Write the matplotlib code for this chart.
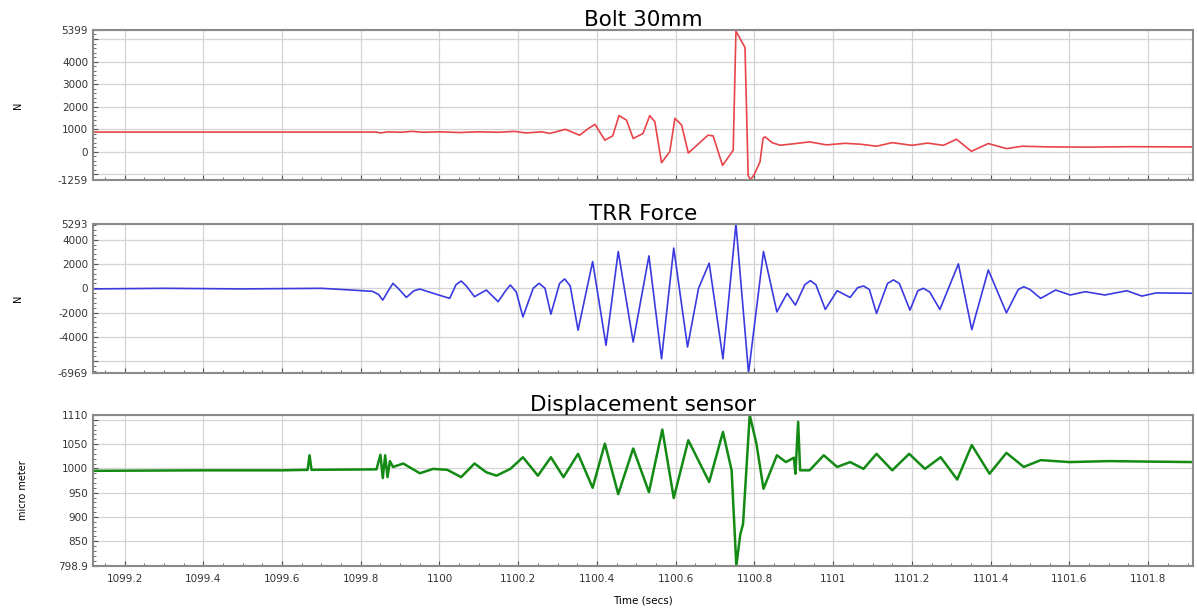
import matplotlib
matplotlib.use("Agg")
import matplotlib.pyplot as plt
from matplotlib.ticker import MultipleLocator, FuncFormatter

# Bolt 30mm force (N)
bolt_t = [1099.12, 1099.40, 1099.60, 1099.84, 1099.85, 1099.87, 1099.90, 1099.93,
          1099.96, 1100.00, 1100.05, 1100.10, 1100.15, 1100.19, 1100.22, 1100.26,
          1100.28, 1100.32, 1100.356, 1100.38, 1100.395, 1100.42, 1100.44, 1100.456,
          1100.475, 1100.492, 1100.517, 1100.534, 1100.547, 1100.564, 1100.585,
          1100.598, 1100.615, 1100.632, 1100.682, 1100.695, 1100.719, 1100.746,
          1100.753, 1100.776, 1100.784, 1100.79, 1100.80, 1100.814, 1100.822,
          1100.827, 1100.845, 1100.865, 1100.90, 1100.94, 1100.983, 1101.03,
          1101.07, 1101.11, 1101.15, 1101.20, 1101.24, 1101.28, 1101.313,
          1101.351, 1101.394, 1101.44, 1101.48, 1101.55, 1101.65, 1101.75, 1101.915]
bolt_n = [870, 870, 870, 870, 830, 880, 860, 900,
          860, 880, 850, 880, 860, 900, 830, 880,
          810, 990, 730, 1050, 1210, 510, 700, 1600,
          1400, 583, 807, 1600, 1330, -493, 0,
          1480, 1180, -60, 730, 700, -613, 60,
          5350, 4620, -1060, -1250, -1000, -460, 600,
          657, 400, 283, 350, 433, 300, 370,
          330, 240, 400, 280, 380, 280, 553,
          15, 360, 135, 240, 210, 200, 220, 210]

# TRR force (N)
trr_t = [1099.12, 1099.30, 1099.50, 1099.70, 1099.78, 1099.83, 1099.845, 1099.856,
         1099.87, 1099.882, 1099.895, 1099.916, 1099.935, 1099.95, 1099.984,
         1100.026, 1100.042, 1100.055, 1100.068, 1100.089, 1100.119, 1100.149,
         1100.168, 1100.18, 1100.195, 1100.212, 1100.238, 1100.253, 1100.268,
         1100.283, 1100.305, 1100.318, 1100.332, 1100.352, 1100.389, 1100.423,
         1100.454, 1100.492, 1100.532, 1100.564, 1100.595, 1100.63, 1100.658,
         1100.685, 1100.72, 1100.753, 1100.785, 1100.823, 1100.857, 1100.883,
         1100.904, 1100.928, 1100.942, 1100.956, 1100.98, 1101.01, 1101.043,
         1101.062, 1101.077, 1101.092, 1101.11, 1101.138, 1101.153, 1101.168,
         1101.195, 1101.215, 1101.229, 1101.245, 1101.271, 1101.318, 1101.352,
         1101.394, 1101.44, 1101.47, 1101.484, 1101.50, 1101.527, 1101.565,
         1101.602, 1101.64, 1101.69, 1101.746, 1101.784, 1101.82, 1101.915]
trr_n = [-50, 0, -50, 0, -150, -250, -500, -970,
         -200, 410, 0, -750, -200, -60, -410,
         -830, 300, 600, 200, -690, -140, -1100,
         -200, 270, -300, -2350, 0, 410, 0,
         -2130, 400, 770, 200, -3450, 2200, -4690,
         3030, -4420, 2670, -5800, 3310, -4830, 0,
         2070, -5800, 5293, -6969, 3030, -1940, -410,
         -1380, 300, 630, 300, -1740, -200, -750,
         50, 190, -100, -2070, 400, 690, 400,
         -1800, -200, 0, -300, -1740, 2010, -3400,
         1510, -2020, -100, 130, -100, -830, -140,
         -550, -280, -550, -200, -640, -380, -410]

# Displacement sensor (micro meter)
disp_t = [1099.12, 1099.40, 1099.60, 1099.665, 1099.67, 1099.675, 1099.84, 1099.85,
          1099.856, 1099.862, 1099.868, 1099.874, 1099.882, 1099.908, 1099.95,
          1099.984, 1100.02, 1100.055, 1100.089, 1100.119, 1100.145, 1100.18,
          1100.212, 1100.25, 1100.283, 1100.315, 1100.352, 1100.389, 1100.42,
          1100.454, 1100.492, 1100.532, 1100.566, 1100.595, 1100.632, 1100.685,
          1100.72, 1100.742, 1100.754, 1100.764, 1100.771, 1100.788, 1100.805,
          1100.823, 1100.857, 1100.88, 1100.9, 1100.904, 1100.911, 1100.916,
          1100.94, 1100.976, 1101.01, 1101.043, 1101.077, 1101.11, 1101.15,
          1101.193, 1101.233, 1101.273, 1101.315, 1101.352, 1101.397, 1101.44,
          1101.484, 1101.527, 1101.60, 1101.70, 1101.80, 1101.915]
disp_um = [995, 996, 996, 997, 1027, 997, 998, 1028,
           980, 1027, 982, 1015, 1003, 1010, 990,
           999, 997, 982, 1010, 992, 985, 999,
           1023, 985, 1023, 982, 1030, 960, 1051,
           947, 1041, 951, 1080, 939, 1058, 972,
           1075, 996, 799, 864, 885, 1110, 1051,
           958, 1027, 1013, 1022, 989, 1096, 996,
           996, 1027, 1003, 1013, 999, 1030, 996,
           1030, 999, 1023, 977, 1048, 989, 1032,
           1003, 1017, 1013, 1015, 1014, 1013]


def style_axes(ax, yticks, ylabels, ylim, yminor):
    ax.set_xlim(1099.12, 1101.914)
    ax.set_ylim(*ylim)
    ax.set_yticks(yticks)
    ax.set_yticklabels(ylabels)
    ax.xaxis.set_major_locator(MultipleLocator(0.2))
    ax.xaxis.set_minor_locator(MultipleLocator(0.05))
    ax.yaxis.set_minor_locator(MultipleLocator(yminor))
    ax.grid(True, which="major", color="#d4d4d4", lw=0.9)
    ax.set_axisbelow(True)
    ax.tick_params(which="both", direction="in", colors="#555555",
                   labelcolor="#333333", labelsize=7.5, top=False, right=False)
    ax.tick_params(which="major", length=3.5)
    ax.tick_params(which="minor", length=2)
    for sp in ax.spines.values():
        sp.set_color("#8a8a8a")
        sp.set_linewidth(1.5)


def main():
    fig = plt.figure(figsize=(11.97, 6.15), dpi=100)
    ax1 = fig.add_axes([0.0777, 0.7073, 0.919, 0.2439])
    ax2 = fig.add_axes([0.0777, 0.3935, 0.919, 0.2423])
    ax3 = fig.add_axes([0.0777, 0.0797, 0.919, 0.2455])

    ax1.plot(bolt_t, bolt_n, color="#e8444a", lw=1.2)
    style_axes(ax1,
               [-1259, -1000, 0, 1000, 2000, 3000, 4000, 5000, 5399],
               ["-1259", "", "0", "1000", "2000", "3000", "4000", "", "5399"],
               (-1259, 5399), 200)
    ax1.set_title("Bolt 30mm", fontsize=15.5, pad=2)
    ax1.set_ylabel("N", fontsize=7, labelpad=25)
    ax1.set_xticklabels([])

    ax2.plot(trr_t, trr_n, color="#3a3ae0", lw=1.2)
    style_axes(ax2,
               [-6969, -6000, -4000, -2000, 0, 2000, 4000, 5293],
               ["-6969", "", "-4000", "-2000", "0", "2000", "4000", "5293"],
               (-6969, 5293), 400)
    ax2.set_title("TRR Force", fontsize=15.5, pad=2)
    ax2.set_ylabel("N", fontsize=7, labelpad=25)
    ax2.set_xticklabels([])

    ax3.plot(disp_t, disp_um, color="#138a13", lw=1.8)
    style_axes(ax3,
               [798.9, 850, 900, 950, 1000, 1050, 1100, 1110],
               ["798.9", "850", "900", "950", "1000", "1050", "", "1110"],
               (798.9, 1110), 10)
    ax3.xaxis.set_major_formatter(FuncFormatter(lambda v, p: "%g" % round(v, 1)))
    ax3.tick_params(axis="x", pad=6)
    ax3.set_title("Displacement sensor", fontsize=15.5, pad=2)
    ax3.set_ylabel("micro meter", fontsize=7, labelpad=22)
    ax3.set_xlabel("Time (secs)", fontsize=7.5, labelpad=8)

    fig.savefig("out.png", dpi=100)


if __name__ == "__main__":
    main()
